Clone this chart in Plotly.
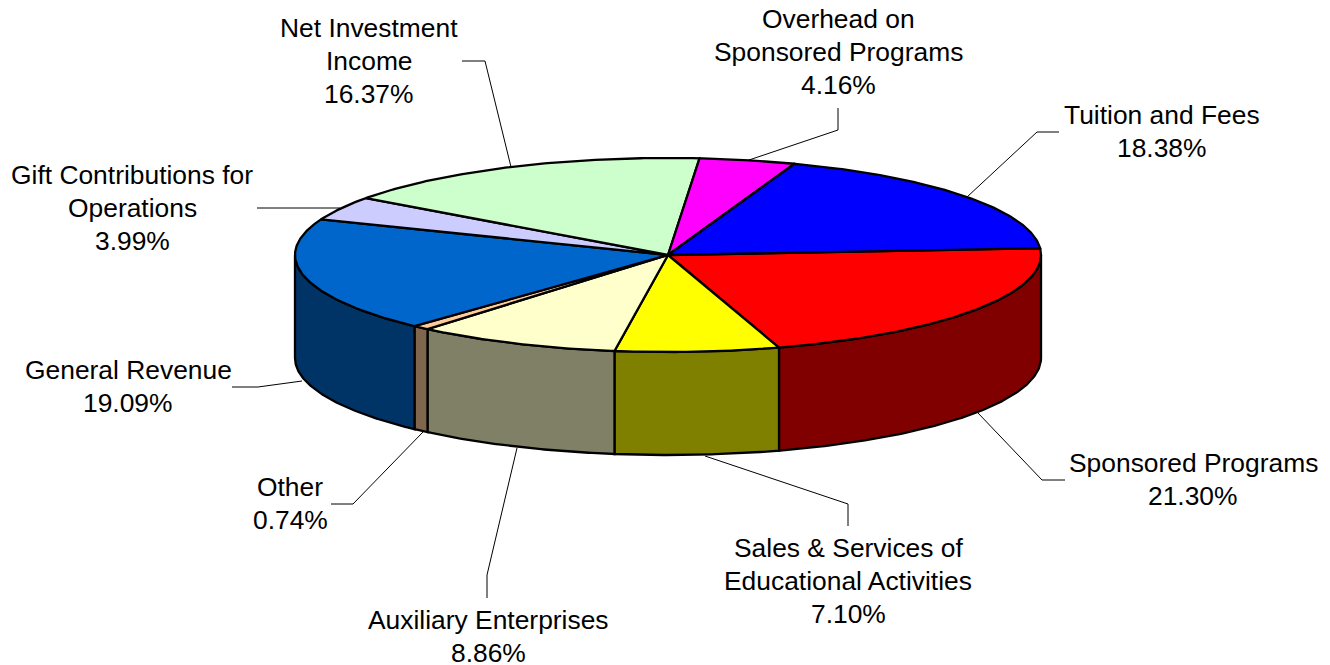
import numpy as np
import plotly.graph_objects as go

# ---- data (clockwise from the start angle) ----
categories = ["Sponsored Programs", "Sales & Services of Educational Activities", "Auxiliary Enterprises",
              "Other", "General Revenue", "Gift Contributions for Operations",
              "Net Investment Income", "Overhead on Sponsored Programs", "Tuition and Fees"]
values = [21.30, 7.10, 8.86, 0.74, 19.09, 3.99, 16.37, 4.16, 18.38]
label_lines = [["Sponsored Programs"], ["Sales & Services of", "Educational Activities"], ["Auxiliary Enterprises"],
               ["Other"], ["General Revenue"], ["Gift Contributions for", "Operations"],
               ["Net Investment", "Income"], ["Overhead on", "Sponsored Programs"], ["Tuition and Fees"]]

# ---- styles ----
top_colors = ["#FF0000", "#FFFF00", "#FFFFCC", "#FFCC99", "#0066CC", "#CCCCFF", "#CCFFCC", "#FF00FF", "#0000FF"]
side_colors = ["#800000", "#808000", "#808066", "#80664D", "#003366", "#666680", "#668066", "#800080", "#000080"]

# ---- layout: pie geometry in page pixels ----
CX, CY, RX, RY, DEPTH = 668.0, 255.0, 373.0, 97.0, 103.0
START_DEG = -4.0
FONT_SIZE = 26.4
LINE_STEP = 33.0
label_centers = [(1193, 479.5), (848, 581), (488, 636.5), (290, 503.5), (128, 386.5),
                 (132, 208), (369, 61), (838, 52), (1162, 131.5)]
leaders = [[(978, 413), (1042, 480), (1065, 480)],
           [(705, 456), (848, 504), (848, 526)],
           [(517, 448), (487, 575), (487, 598)],
           [(423, 432), (353, 504), (331, 504)],
           [(302, 381), (258, 387), (232, 387)],
           [(340, 208), (257, 208)],
           [(511, 167), (485, 61), (462, 61)],
           [(749, 160), (838, 130), (838, 108)],
           [(967, 197), (1037, 132), (1059, 132)]]

edges = START_DEG + np.concatenate([[0], np.cumsum(values)]) / sum(values) * 360.0


def arc(a, b):
    t = np.radians(np.linspace(a, b, max(2, int(abs(b - a) * 2) + 1)))
    return CX + RX * np.cos(t), CY + RY * np.sin(t)


fig = go.Figure()

# side walls: only the front half (0..180 deg) of the ellipse is visible
for i, name in enumerate(categories):
    a, b = max(edges[i], 0.0), min(edges[i + 1], 180.0)
    if b <= a:
        continue
    x, y = arc(a, b)
    px = np.concatenate([x, x[::-1], x[:1]])
    py = np.concatenate([y, y[::-1] + DEPTH, y[:1]])
    fig.add_trace(go.Scatter(x=px, y=py, mode="lines", fill="toself", fillcolor=side_colors[i],
                             line=dict(color="black", width=2.3), hoverinfo="skip", showlegend=False))

# top face
for i, name in enumerate(categories):
    x, y = arc(edges[i], edges[i + 1])
    px = np.concatenate([[CX], x, [CX]])
    py = np.concatenate([[CY], y, [CY]])
    fig.add_trace(go.Scatter(x=px, y=py, mode="lines", fill="toself", fillcolor=top_colors[i],
                             line=dict(color="black", width=2.3), name=name,
                             text=f"{name}: {values[i]:.2f}%", hoverinfo="text", showlegend=False))

# leader lines
for pts in leaders:
    fig.add_trace(go.Scatter(x=[p[0] for p in pts], y=[p[1] for p in pts], mode="lines",
                             line=dict(color="black", width=1), hoverinfo="skip", showlegend=False))

# labels, one annotation per line so the line spacing matches
for lines, v, (lx, ly) in zip(label_lines, values, label_centers):
    rows = lines + [f"{v:.2f}%"]
    for k, row in enumerate(rows):
        fig.add_annotation(x=lx, y=ly + (k - (len(rows) - 1) / 2) * LINE_STEP, xref="x", yref="y",
                           xanchor="center", yanchor="middle", text=row, showarrow=False,
                           font=dict(family="Liberation Sans, Arial, sans-serif", size=FONT_SIZE, color="black"))

fig.update_layout(width=1330, height=665, margin=dict(l=0, r=0, t=0, b=0),
                  paper_bgcolor="white", plot_bgcolor="white", showlegend=False)
fig.update_xaxes(range=[0, 1330], visible=False, fixedrange=True)
fig.update_yaxes(range=[665, 0], visible=False, fixedrange=True)

fig.write_html("out.html", post_script="document.body.style.margin='0';",
               config={"displayModeBar": False})
